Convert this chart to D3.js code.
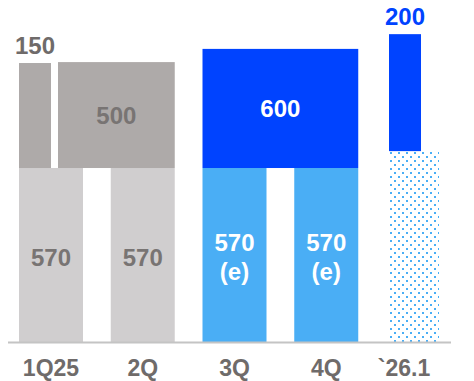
<!DOCTYPE html>
<html>
<head>
<meta charset="utf-8">
<script src="https://cdn.jsdelivr.net/npm/d3@7"></script>
<style>
  html, body { margin: 0; padding: 0; background: #fff; }
  svg { display: block; font-family: "Liberation Sans", Arial, sans-serif; font-weight: bold; }
</style>
</head>
<body>
<div id="chart"></div>
<script>
// data ---------------------------------------------------------------------------------------
const categories = ['1Q25', '2Q', '3Q', '4Q', '`26.1'];
// lower block of each period (chart units)
const baseLevels = [570, 570, 570, 570, 625];
const baseLabels = [['570'], ['570'], ['570', '(e)'], ['570', '(e)'], []];
const baseKinds = ['actual', 'actual', 'estimate', 'estimate', 'dotted'];
// upper blocks: label, first / last period covered, level reached (schematic)
const topLabels = ['150', '500', '600', '200'];
const topFrom = ['1Q25', '1Q25', '3Q', '`26.1'];
const topTo = ['1Q25', '2Q', '4Q', '`26.1'];
const topLevels = [912, 915, 958, 1006];
const topKinds = ['gray-half', 'gray-wide', 'blue', 'blue-new'];

// layout -------------------------------------------------------------------------------------
const width = 474;
const height = 381;
const baseY = 343;
const colors = {
  actual: '#d0cecf', estimate: '#4aaef5', dotted: '#4aaef5',
  gray: '#aeaaa9', blue: '#0043ff', grayText: '#6f6b6a', barText: '#787473'
};

const svg = d3.select('#chart').append('svg')
  .attr('width', width)
  .attr('height', height);

// dotted pattern for the next period
const pat = svg.append('defs').append('pattern')
  .attr('id', 'dots')
  .attr('patternUnits', 'userSpaceOnUse')
  .attr('x', 390).attr('y', 152)
  .attr('width', 8).attr('height', 8);
pat.append('rect').attr('x', 0).attr('y', 0).attr('width', 2).attr('height', 2).attr('fill', colors.dotted);
pat.append('rect').attr('x', 4).attr('y', 4).attr('width', 2).attr('height', 2).attr('fill', colors.dotted);

const x = d3.scaleBand()
  .domain(categories)
  .range([19, 450])
  .paddingInner(0.3025)
  .paddingOuter(0);
const bw = x.bandwidth();

const y = d3.scaleLinear()
  .domain([0, 1000])
  .range([baseY, 36]);

// the newest period is drawn narrower than the others
const isNew = c => c === '`26.1';
const barLeft = c => isNew(c) ? x(c) + 4 : x(c);
const barWidth = c => isNew(c) ? 49 : bw;
const labelX = c => isNew(c) ? x(c) + 18 : x(c) + bw / 2;

// lower blocks -------------------------------------------------------------------------------
const base = svg.append('g').selectAll('g')
  .data(categories.map((c, i) => ({ c, v: baseLevels[i], lab: baseLabels[i], kind: baseKinds[i] })))
  .join('g');

base.append('rect')
  .attr('x', d => barLeft(d.c))
  .attr('y', d => y(d.v))
  .attr('width', d => barWidth(d.c))
  .attr('height', d => y(0) - y(d.v))
  .attr('fill', d => d.kind === 'dotted' ? 'url(#dots)' : colors[d.kind]);

base.each(function (d) {
  const mid = (y(d.v) + y(0)) / 2 + 10;
  const n = d.lab.length;
  d3.select(this).selectAll('text')
    .data(d.lab)
    .join('text')
    .attr('x', x(d.c) + bw / 2)
    .attr('y', (t, j) => mid + (j - (n - 1) / 2) * 29)
    .attr('text-anchor', 'middle')
    .attr('font-size', '24px')
    .attr('fill', d.kind === 'actual' ? colors.barText : '#fff')
    .text(t => t);
});

// upper blocks -------------------------------------------------------------------------------
const tops = topLabels.map((t, i) => {
  const kind = topKinds[i];
  let x0 = x(topFrom[i]);
  let x1 = x(topTo[i]) + bw;
  if (kind === 'gray-half') x1 = x0 + bw / 2;
  if (kind === 'gray-wide') x0 = x0 + bw / 2 + 7;
  if (kind === 'blue-new') { x0 = x0 + 3; x1 = x0 + 32; }
  const bottom = kind === 'blue-new' ? baseLevels[4] : baseLevels[categories.indexOf(topFrom[i])];
  return { t, kind, x0, x1, y0: bottom, y1: topLevels[i] };
});

const topG = svg.append('g').selectAll('g')
  .data(tops)
  .join('g');

topG.append('rect')
  .attr('x', d => d.x0)
  .attr('y', d => y(d.y1))
  .attr('width', d => d.x1 - d.x0)
  .attr('height', d => y(d.y0) - y(d.y1))
  .attr('fill', d => d.kind.startsWith('gray') ? colors.gray : colors.blue);

topG.append('text')
  .attr('x', d => (d.x0 + d.x1) / 2)
  .attr('y', d => {
    // small blocks carry their value above, large blocks inside
    if (d.kind === 'gray-half' || d.kind === 'blue-new') return y(d.y1) - 9;
    return (y(d.y0) + y(d.y1)) / 2 + 9;
  })
  .attr('text-anchor', 'middle')
  .attr('font-size', '24px')
  .attr('fill', d => {
    if (d.kind === 'gray-half') return colors.grayText;
    if (d.kind === 'gray-wide') return colors.barText;
    if (d.kind === 'blue-new') return colors.blue;
    return '#fff';
  })
  .text(d => d.t);

// baseline + category labels -----------------------------------------------------------------
svg.append('line')
  .attr('x1', 8).attr('x2', 451)
  .attr('y1', baseY - 0.5).attr('y2', baseY - 0.5)
  .attr('stroke', '#c4c4c4')
  .attr('stroke-width', 2);

svg.append('g').selectAll('text')
  .data(categories)
  .join('text')
  .attr('x', d => labelX(d))
  .attr('y', 376)
  .attr('text-anchor', 'middle')
  .attr('font-size', '23px')
  .attr('fill', colors.grayText)
  .text(d => d);
</script>
</body>
</html>
